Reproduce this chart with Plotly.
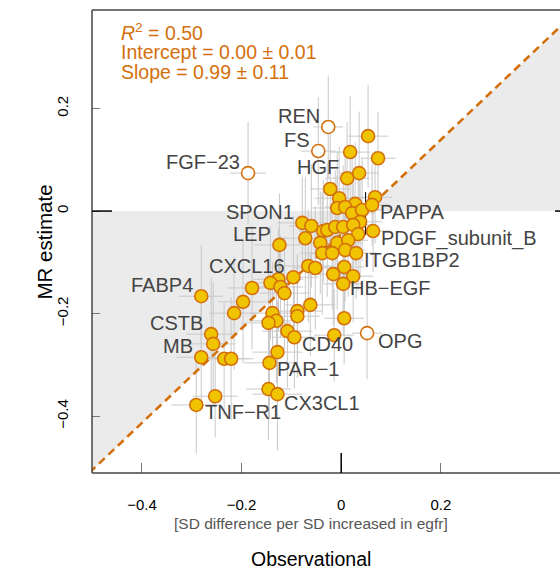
import plotly.graph_objects as go

# ---------------- data ----------------
# main proteins (filled markers)
obs = [0.054, 0.018, 0.074, 0.036, 0.012, -0.022, -0.004, 0.068, 0.028, -0.008,
       0.008, 0.022, 0.042, 0.062, 0.038, -0.078, -0.060, -0.036, -0.028, -0.012,
       0.004, 0.024, 0.034, 0.064, -0.072, -0.042, -0.008, 0.014, -0.124, -0.038,
       -0.018, 0.008, 0.030, -0.066, -0.052, -0.016, 0.006, 0.024, 0.004, -0.096,
       -0.126, -0.142, -0.179, -0.122, -0.114, -0.281, -0.197, -0.215, -0.138, -0.130,
       -0.146, -0.088, -0.088, -0.062, 0.006, -0.108, -0.094, -0.014, -0.261, -0.257,
       -0.281, -0.235, -0.221, -0.128, -0.144, -0.146, -0.128, -0.253, -0.291]
mr = [0.146, 0.115, 0.103, 0.074, 0.064, 0.043, 0.025, 0.027, 0.014, 0.006,
      0.008, -0.004, 0.002, 0.012, -0.021, -0.023, -0.029, -0.039, -0.037, -0.031,
      -0.031, -0.027, -0.045, -0.039, -0.053, -0.062, -0.062, -0.057, -0.066, -0.082,
      -0.082, -0.076, -0.082, -0.107, -0.111, -0.123, -0.109, -0.127, -0.142, -0.129,
      -0.133, -0.140, -0.150, -0.148, -0.160, -0.166, -0.177, -0.199, -0.199, -0.214,
      -0.218, -0.195, -0.205, -0.183, -0.209, -0.234, -0.246, -0.242, -0.240, -0.259,
      -0.285, -0.288, -0.288, -0.275, -0.296, -0.347, -0.357, -0.361, -0.378]
obs_ci = [0.040, 0.040, 0.035, 0.040, 0.045, 0.040, 0.050, 0.035, 0.045, 0.050,
          0.040, 0.045, 0.040, 0.035, 0.045, 0.050, 0.045, 0.050, 0.040, 0.050,
          0.045, 0.040, 0.040, 0.035, 0.050, 0.045, 0.050, 0.040, 0.050, 0.045,
          0.050, 0.040, 0.040, 0.050, 0.045, 0.050, 0.040, 0.040, 0.040, 0.050,
          0.050, 0.045, 0.050, 0.045, 0.050, 0.045, 0.050, 0.050, 0.045, 0.050,
          0.045, 0.050, 0.045, 0.050, 0.040, 0.050, 0.045, 0.040, 0.050, 0.045,
          0.050, 0.050, 0.045, 0.050, 0.050, 0.045, 0.050, 0.045, 0.050]
mr_ci = [0.100, 0.110, 0.090, 0.120, 0.110, 0.130, 0.100, 0.090, 0.120, 0.110,
         0.100, 0.120, 0.100, 0.080, 0.110, 0.090, 0.120, 0.100, 0.130, 0.110,
         0.120, 0.100, 0.110, 0.080, 0.120, 0.100, 0.130, 0.110, 0.100, 0.120,
         0.110, 0.100, 0.090, 0.110, 0.120, 0.100, 0.110, 0.090, 0.100, 0.120,
         0.100, 0.110, 0.120, 0.100, 0.110, 0.100, 0.120, 0.110, 0.100, 0.120,
         0.100, 0.110, 0.120, 0.100, 0.090, 0.110, 0.100, 0.090, 0.110, 0.120,
         0.100, 0.110, 0.120, 0.100, 0.110, 0.100, 0.110, 0.080, 0.095]
names = ["", "", "", "", "HGF", "", "", "", "", "",
         "", "", "", "PAPPA", "", "SPON1", "", "", "", "",
         "", "", "", "PDGF_subunit_B", "", "", "", "", "LEP", "",
         "", "", "ITGB1BP2", "", "", "", "", "", "HB\u2212EGF", "CXCL16",
         "", "", "", "", "", "FABP4", "", "", "", "",
         "", "", "", "", "", "", "CD40", "", "CSTB", "",
         "MB", "", "", "", "PAR\u22121", "", "CX3CL1", "", "TNF\u2212R1"]

# highlighted proteins (open markers)
hl_names = ["REN", "FS", "FGF\u221223", "OPG"]
hl_obs = [-0.026, -0.046, -0.187, 0.052]
hl_mr = [0.164, 0.117, 0.074, -0.238]
hl_obs_ci = [0.030, 0.035, 0.036, 0.030]
hl_mr_ci = [0.100, 0.105, 0.100, 0.090]

# fitted line as drawn, and the attenuation-region apex
fit_x = [-0.6, 0.6]
fit_slope, fit_intercept = 0.92, -0.045
apex_x = 0.049

x_ticks = [-0.4, -0.2, 0, 0.2]
y_ticks = [-0.4, -0.2, 0, 0.2]
tick_text = ["\u22120.4", "\u22120.2", "0", "0.2"]
x_range = [-0.5003, 0.4393]
y_range = [-0.5107, 0.392]

stats = ["<i>R</i><sup>2</sup> = 0.50", "Intercept = 0.00 \u00b1 0.01", "Slope = 0.99 \u00b1 0.11"]

# ---------------- styling ----------------
FONT = "Liberation Sans, Arial, sans-serif"
ORANGE = "#D4700C"
GOLD = "#F0C400"
SHADE = "#EBEBEB"
W, H = 560, 586
ML, MT, MB_ = 92, 10, 113
PW, PH = W - ML, H - MT - MB_

fig = go.Figure()

def fit(x):
    return fit_slope * x + fit_intercept

# shaded regions
fig.add_trace(go.Scatter(x=[fit_x[0], apex_x, fit_x[0], fit_x[0]],
                         y=[0, 0, fit(fit_x[0]), 0], fill="toself", fillcolor=SHADE,
                         mode="none", hoverinfo="skip", showlegend=False))
fig.add_trace(go.Scatter(x=[apex_x, fit_x[1], fit_x[1], apex_x],
                         y=[0, 0, fit(fit_x[1]), 0], fill="toself", fillcolor=SHADE,
                         mode="none", hoverinfo="skip", showlegend=False))

# error bars
all_x = obs + hl_obs
all_y = mr + hl_mr
fig.add_trace(go.Scatter(
    x=all_x, y=all_y, mode="markers",
    marker=dict(size=1, opacity=0),
    error_x=dict(type="data", array=obs_ci + hl_obs_ci, color="#C9C9C9", thickness=1, width=0),
    error_y=dict(type="data", array=mr_ci + hl_mr_ci, color="#C9C9C9", thickness=1, width=0),
    hoverinfo="skip", showlegend=False))

# black origin mark of the shading system
fig.add_trace(go.Scatter(x=[apex_x, apex_x], y=[0.037, -0.047], mode="lines",
                         line=dict(color="black", width=1), hoverinfo="skip", showlegend=False))

# fitted line
fig.add_trace(go.Scatter(x=fit_x, y=[fit(v) for v in fit_x], mode="lines",
                         line=dict(color=ORANGE, width=2.6, dash="8px,5px"),
                         hoverinfo="skip", showlegend=False))

# points
fig.add_trace(go.Scatter(x=obs, y=mr, mode="markers",
                         marker=dict(size=13, color=GOLD, line=dict(color=ORANGE, width=1.6)),
                         text=names, showlegend=False))
fig.add_trace(go.Scatter(x=hl_obs, y=hl_mr, mode="markers",
                         marker=dict(size=13, color="white", line=dict(color=ORANGE, width=1.6)),
                         text=hl_names, showlegend=False))

# labels
right_side = {"PAPPA": (6, -7), "PDGF_subunit_B": (6, -7), "ITGB1BP2": (6, -7),
              "HB\u2212EGF": (5, -4), "CD40": (6, -7), "PAR\u22121": (6, -6),
              "CX3CL1": (5, -9), "TNF\u2212R1": (7, -7), "OPG": (9, -8)}
annotations = []
for nm, xv, yv in list(zip(names, obs, mr)) + list(zip(hl_names, hl_obs, hl_mr)):
    if not nm:
        continue
    if nm in right_side:
        dx, dy = right_side[nm]
        anchor = "left"
    else:
        dx, dy = -6, 11
        anchor = "right"
    annotations.append(dict(x=xv, y=yv, xref="x", yref="y", text=nm, showarrow=False,
                            xanchor=anchor, yanchor="middle", xshift=dx, yshift=dy,
                            font=dict(family=FONT, size=20, color="#444444")))

# statistics text
for i, s in enumerate(stats):
    yc = [32, 52, 72][i]
    annotations.append(dict(x=(119 - ML) / PW, y=(H - MB_ - yc) / PH, xref="paper", yref="paper",
                            text=s, showarrow=False, xanchor="left", yanchor="middle",
                            font=dict(family=FONT, size=19.5, color=ORANGE)))

# axis titles
annotations.append(dict(x=(311 - ML) / PW, y=(H - MB_ - 534) / PH, xref="paper", yref="paper",
                        text="[SD difference per SD increased in egfr]", showarrow=False,
                        font=dict(family=FONT, size=15.5, color="#555555")))
annotations.append(dict(x=(311 - ML) / PW, y=(H - MB_ - 572) / PH, xref="paper", yref="paper",
                        text="Observational", showarrow=False,
                        font=dict(family=FONT, size=19.5, color="black")))
annotations.append(dict(x=(30 - ML) / PW, y=(H - MB_ - 242) / PH, xref="paper", yref="paper",
                        text="MR estimate", showarrow=False, textangle=-90,
                        font=dict(family=FONT, size=20.5, color="black")))

# frame and black zero ticks
shapes = [
    dict(type="line", xref="paper", yref="paper", x0=0, x1=0, y0=0, y1=1, line=dict(color="#444", width=1.5)),
    dict(type="line", xref="paper", yref="paper", x0=0, x1=1.01, y0=1, y1=1, line=dict(color="#444", width=1.5)),
    dict(type="line", xref="paper", yref="paper", x0=0, x1=1.01, y0=0, y1=0, line=dict(color="#444", width=1.5)),
    dict(type="line", xref="paper", yref="y", x0=0, x1=20 / PW, y0=0, y1=0, line=dict(color="black", width=1.5)),
    dict(type="line", xref="x", yref="paper", x0=0, x1=0, y0=0, y1=20 / PH, line=dict(color="black", width=1.5)),
    dict(type="line", xref="paper", yref="y", x0=1 - 5 / PW, x1=1, y0=0, y1=0, line=dict(color="black", width=1.5)),
]

fig.update_layout(
    width=W, height=H,
    margin=dict(l=ML, r=0, t=MT, b=MB_, pad=0),
    plot_bgcolor="white", paper_bgcolor="white",
    showlegend=False,
    annotations=annotations, shapes=shapes,
    font=dict(family=FONT),
)
fig.update_xaxes(range=x_range, tickvals=x_ticks, ticktext=tick_text,
                 ticks="inside", ticklen=10, tickcolor="#777", tickwidth=1,
                 showgrid=False, zeroline=False, showline=False,
                 tickfont=dict(family=FONT, size=15, color="black"), ticklabelstandoff=21)
fig.update_yaxes(range=y_range, tickvals=y_ticks, ticktext=tick_text,
                 ticks="inside", ticklen=8, tickcolor="#777", tickwidth=1, tickangle=-90,
                 showgrid=False, zeroline=False, showline=False,
                 tickfont=dict(family=FONT, size=15, color="black"), ticklabelstandoff=20)

fig.write_html("out.html")
